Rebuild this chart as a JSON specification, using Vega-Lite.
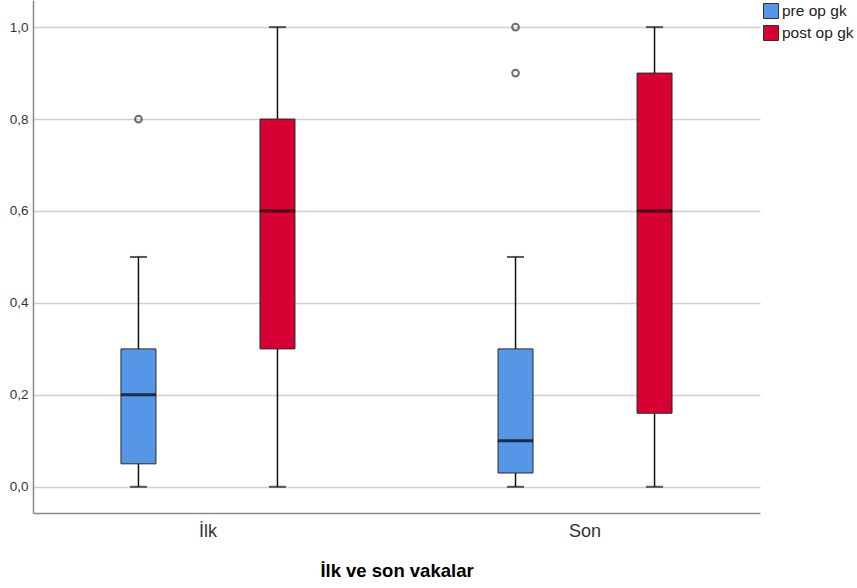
{
  "$schema": "https://vega.github.io/schema/vega-lite/v6.json",
  "width": 727,
  "height": 513,
  "autosize": "none",
  "padding": {"left": 33, "top": 0, "right": 97, "bottom": 75},
  "background": "white",
  "config": {
    "view": {"stroke": null},
    "font": "Liberation Sans"
  },
  "datasets": {
    "boxes": [
      {"group": "İlk", "series": "pre op gk", "min": 0, "q1": 0.05, "median": 0.2, "q3": 0.3, "max": 0.5},
      {"group": "İlk", "series": "post op gk", "min": 0, "q1": 0.3, "median": 0.6, "q3": 0.8, "max": 1.0},
      {"group": "Son", "series": "pre op gk", "min": 0, "q1": 0.03, "median": 0.1, "q3": 0.3, "max": 0.5},
      {"group": "Son", "series": "post op gk", "min": 0, "q1": 0.16, "median": 0.6, "q3": 0.9, "max": 1.0}
    ],
    "outliers": [
      {"group": "İlk", "series": "pre op gk", "value": 0.8},
      {"group": "Son", "series": "pre op gk", "value": 0.9},
      {"group": "Son", "series": "pre op gk", "value": 1.0}
    ]
  },
  "encoding": {
    "x": {
      "field": "group", "type": "nominal", "sort": ["İlk", "Son"],
      "scale": {"paddingInner": 0.2, "paddingOuter": 0.064},
      "axis": {
        "title": "İlk ve son vakalar", "labelAngle": 0, "ticks": false,
        "domainColor": "#888888", "domainWidth": 1.5,
        "labelFontSize": 18, "labelColor": "#333333", "labelPadding": 9,
        "titleFontSize": 18.5, "titleFontWeight": "bold", "titleColor": "#000000", "titlePadding": 21
      }
    },
    "xOffset": {
      "field": "series", "type": "nominal", "sort": ["pre op gk", "post op gk"],
      "scale": {"paddingInner": 0, "paddingOuter": 0.085}
    }
  },
  "layer": [
    {
      "data": {"name": "boxes"},
      "mark": {"type": "rule", "color": "#111111", "strokeWidth": 1.5},
      "encoding": {
        "y": {
          "field": "min", "type": "quantitative",
          "scale": {"domain": [-0.057, 1.059], "nice": false, "zero": false},
          "axis": {
            "title": null, "values": [0, 0.2, 0.4, 0.6, 0.8, 1.0],
            "labelExpr": "replace(format(datum.value, '.1f'), '.', ',')",
            "ticks": false, "labelPadding": 5, "labelFontSize": 13.5, "labelColor": "#333333",
            "domainColor": "#888888", "domainWidth": 1.5,
            "grid": true, "gridColor": "#cfcfcf", "gridWidth": 1.5
          }
        },
        "y2": {"field": "max"}
      }
    },
    {
      "data": {"name": "boxes"},
      "mark": {"type": "tick", "color": "#111111", "size": 17, "thickness": 2},
      "encoding": {"y": {"field": "min", "type": "quantitative"}}
    },
    {
      "data": {"name": "boxes"},
      "mark": {"type": "tick", "color": "#111111", "size": 17, "thickness": 2},
      "encoding": {"y": {"field": "max", "type": "quantitative"}}
    },
    {
      "data": {"name": "boxes"},
      "mark": {"type": "bar", "width": 35, "stroke": "#2a2a2a", "strokeWidth": 1},
      "encoding": {
        "y": {"field": "q1", "type": "quantitative"},
        "y2": {"field": "q3"},
        "color": {
          "field": "series", "type": "nominal", "sort": ["pre op gk", "post op gk"],
          "scale": {"domain": ["pre op gk", "post op gk"], "range": ["#5596E6", "#D60032"]},
          "legend": {
            "title": null, "orient": "none", "legendX": 730, "legendY": 3,
            "symbolType": "square", "symbolSize": 225, "symbolStrokeColor": "#333333",
            "symbolStrokeWidth": 1, "symbolOpacity": 1,
            "labelFontSize": 15.5, "labelColor": "#222222", "labelOffset": 3, "rowPadding": 2
          }
        }
      }
    },
    {
      "data": {"name": "boxes"},
      "mark": {"type": "tick", "color": "#000000", "size": 35, "thickness": 3},
      "encoding": {"y": {"field": "median", "type": "quantitative"}}
    },
    {
      "data": {"name": "outliers"},
      "mark": {"type": "point", "shape": "circle", "filled": false, "size": 45, "stroke": "#333333", "strokeWidth": 2},
      "encoding": {"y": {"field": "value", "type": "quantitative"}}
    }
  ]
}
